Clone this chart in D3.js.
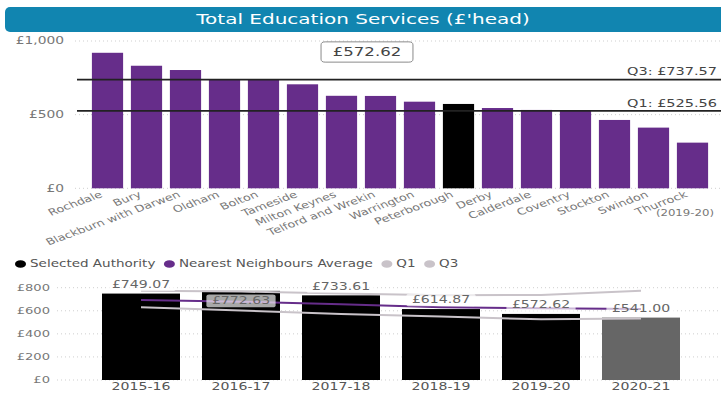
<!DOCTYPE html>
<html><head><meta charset="utf-8">
<script src="https://cdn.jsdelivr.net/npm/d3@7"></script>
<style>
body{margin:0;background:#fff}
svg{display:block;font-family:'DejaVu Sans',Verdana,sans-serif}
</style>
</head><body>
<svg id="chart" width="721" height="396"></svg>
<script>
// Nearest neighbour authorities, spend per head 2019-20
const authorities = ["Rochdale","Bury","Blackburn with Darwen","Oldham","Bolton","Tameside",
  "Milton Keynes","Telford and Wrekin","Warrington","Peterborough","Derby","Calderdale",
  "Coventry","Stockton","Swindon","Thurrock"];
const spendPerHead = [920, 832, 803, 742, 740, 706, 628, 627, 588, 572.62, 545, 532, 530, 464, 412, 310];
const selectedAuthority = "Peterborough";
const quartile1 = 525.56;
const quartile3 = 737.57;
const topTicks = [0, 500, 1000];

// Selected authority over time
const years = ["2015-16","2016-17","2017-18","2018-19","2019-20","2020-21"];
const selectedSpend = [749.07, 772.63, 733.61, 614.87, 572.62, 541.00];
const neighbourAverage = [693, 679, 656, 630, 621, 616];
const q1Series = [630, 603, 572, 550, 525.56, 532];
const q3Series = [774, 766, 750, 735, 737.57, 773];
const bottomTicks = [0, 200, 400, 600, 800];

const PURPLE = "#662d8a", QGREY = "#c9c3c9", TEAL = "#1185b0";
const SX = 1.38; // horizontal text stretch

const svg = d3.select("#chart");
const money0 = v => "£" + d3.format(",.0f")(v);
const money2 = v => "£" + d3.format(",.2f")(v);

// Text drawn inside a group so it can be widened horizontally
function label(parent, x, y, str, o = {}) {
  const g = parent.append("g")
    .attr("transform", `translate(${x},${y}) scale(${SX},1)` + (o.rotate ? ` rotate(${o.rotate})` : ""));
  const t = g.append("text")
    .attr("text-anchor", o.anchor || "middle")
    .attr("dominant-baseline", "central")
    .style("font-size", (o.size || 10) + "px")
    .attr("fill", o.fill || "#666")
    .text(str);
  if (o.bg) {
    const b = t.node().getBBox();
    const px = o.padX ?? 2, py = o.padY ?? 1;
    g.insert("rect", "text")
      .attr("x", b.x - px).attr("y", b.y - py)
      .attr("width", b.width + 2 * px).attr("height", b.height + 2 * py)
      .attr("rx", o.rx || 0)
      .attr("fill", o.bg).attr("stroke", o.stroke || "none").attr("stroke-width", o.stroke ? 1 / SX : 0);
  }
  return g;
}

// ---- Title bar
svg.append("rect").attr("x", 5).attr("y", 7).attr("width", 730).attr("height", 25)
  .attr("rx", 5).attr("fill", TEAL);
label(svg, 363, 19.5, "Total Education Services (£'head)", {size: 14.5, fill: "#fff"});

// ---- Top chart: authorities ranked
const yTop = d3.scaleLinear().domain([0, 1000]).range([188.3, 41]);
const xTop = d3.scaleBand().domain(authorities).range([88, 712]).paddingInner(0.2).paddingOuter(0.1);
const rankG = svg.append("g");

rankG.selectAll("line.grid").data(topTicks).join("line")
  .attr("x1", 75).attr("x2", 721)
  .attr("y1", d => yTop(d)).attr("y2", d => yTop(d))
  .attr("stroke", "#cfcfcf").attr("stroke-width", 1).attr("stroke-dasharray", "1,3");
topTicks.forEach(t => label(rankG, 64, yTop(t), money0(t), {size: 10, anchor: "end", fill: "#777"}));

rankG.selectAll("rect.bar").data(authorities).join("rect")
  .attr("x", d => xTop(d)).attr("width", xTop.bandwidth())
  .attr("y", (d, i) => yTop(spendPerHead[i]))
  .attr("height", (d, i) => yTop(0) - yTop(spendPerHead[i]))
  .attr("fill", d => d === selectedAuthority ? "#000" : PURPLE);

// Quartile reference lines
[[quartile3, "Q3"], [quartile1, "Q1"]].forEach(([v, name]) => {
  rankG.append("line").attr("x1", 77).attr("x2", 721)
    .attr("y1", yTop(v)).attr("y2", yTop(v))
    .attr("stroke", "#222").attr("stroke-width", 1.6);
  label(rankG, 717, yTop(v) - 8, `${name}: ${money2(v)}`, {size: 10.5, anchor: "end", fill: "#444"});
});

// Selected authority value box
const selIdx = authorities.indexOf(selectedAuthority);
label(rankG, 367, 52, money2(spendPerHead[selIdx]),
  {size: 12, fill: "#444", bg: "#fff", stroke: "#777", padX: 8.5, padY: 3.5, rx: 3});

// Rotated category labels
authorities.forEach(a => {
  label(rankG, xTop(a) + xTop.bandwidth() / 2 - 6, 194, a,
    {size: 9.3, anchor: "end", fill: "#777", rotate: -27});
});
label(rankG, 714, 213, "(2019-20)", {size: 8.5, anchor: "end", fill: "#777"});

// ---- Legend
const legendItems = [
  ["Selected Authority", "#000"],
  ["Nearest Neighbours Average", PURPLE],
  ["Q1", QGREY],
  ["Q3", QGREY]
];
let lx = 20.5;
legendItems.forEach(([name, col]) => {
  svg.append("ellipse").attr("cx", lx).attr("cy", 264).attr("rx", 5.5).attr("ry", 3.8).attr("fill", col);
  const g = label(svg, lx + 9.5, 264, name, {size: 9.8, anchor: "start", fill: "#555"});
  const w = g.select("text").node().getComputedTextLength() * SX;
  lx = lx + 9.5 + w + 14;
});

// ---- Bottom chart: trend of selected authority
const yBot = d3.scaleLinear().domain([0, 800]).range([380, 287.7]);
const xBot = d3.scaleBand().domain(years).range([91, 691]).paddingInner(0.22).paddingOuter(0.11);
const trendG = svg.append("g");

trendG.selectAll("line.grid").data(bottomTicks).join("line")
  .attr("x1", 57).attr("x2", 721)
  .attr("y1", d => yBot(d)).attr("y2", d => yBot(d))
  .attr("stroke", "#cfcfcf").attr("stroke-width", 1).attr("stroke-dasharray", "1,3");
bottomTicks.forEach(t => label(trendG, 50, yBot(t), money0(t), {size: 9.5, anchor: "end", fill: "#777"}));

trendG.selectAll("rect.bar").data(years).join("rect")
  .attr("x", d => xBot(d)).attr("width", xBot.bandwidth())
  .attr("y", (d, i) => yBot(selectedSpend[i]))
  .attr("height", (d, i) => yBot(0) - yBot(selectedSpend[i]))
  .attr("fill", (d, i) => i === years.length - 1 ? "#666" : "#000");

const cx = d => xBot(d) + xBot.bandwidth() / 2;
const lineFor = series => d3.line().x(d => cx(d)).y((d, i) => yBot(series[i]))(years);
trendG.append("path").attr("d", lineFor(q3Series)).attr("fill", "none").attr("stroke", QGREY).attr("stroke-width", 2);
trendG.append("path").attr("d", lineFor(q1Series)).attr("fill", "none").attr("stroke", QGREY).attr("stroke-width", 2);
trendG.append("path").attr("d", lineFor(neighbourAverage)).attr("fill", "none").attr("stroke", PURPLE).attr("stroke-width", 2);

// Data labels: above the bar, or inside when it reaches the top of the plot
years.forEach((y, i) => {
  const v = selectedSpend[i];
  const inside = v > 760;
  label(trendG, cx(y), inside ? yBot(v) + 10 : yBot(v) - 9, money2(v),
    {size: 10.2, fill: "#666", bg: "rgba(255,255,255,0.66)", padX: 4, padY: 0.5, rx: 2});
});

years.forEach(y => label(trendG, cx(y), 387, y, {size: 10.2, fill: "#555"}));
</script>
</body></html>
